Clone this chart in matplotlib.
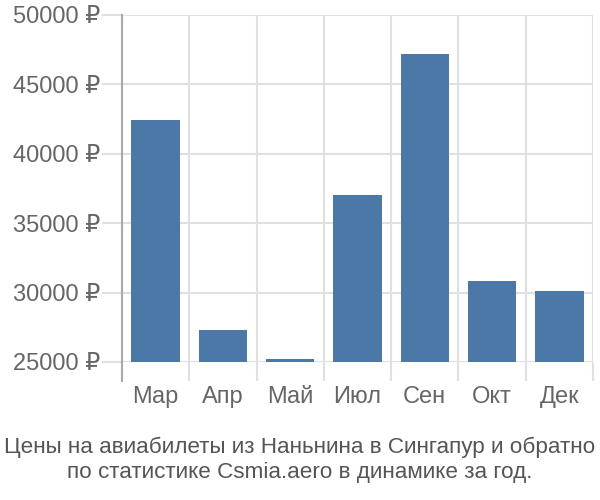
import matplotlib
matplotlib.use("Agg")
import matplotlib.pyplot as plt
import numpy as np

plt.rcParams['font.family'] = ['Liberation Sans', 'DejaVu Sans']

months = ["Мар", "Апр", "Май", "Июл", "Сен", "Окт", "Дек"]
prices = [42400, 27300, 25250, 37000, 47200, 30800, 30100]
yticks = [25000, 30000, 35000, 40000, 45000, 50000]
title = "Цены на авиабилеты из Наньнина в Сингапур и обратно\nпо статистике Csmia.aero в динамике за год."

fig = plt.figure(figsize=(6, 5), dpi=100)
ax = fig.add_axes([122 / 600, 1 - 362 / 500, 471 / 600, 347 / 500])

x = np.arange(len(months))
base = yticks[0]
ax.bar(x, np.array(prices) - base, bottom=base, width=0.72, color="#4c78a8", zorder=3)

ax.set_xlim(-0.5, len(months) - 0.5)
ax.set_ylim(yticks[0], yticks[-1])

ax.set_yticks(yticks)
ax.set_yticklabels([f"{v} ₽" for v in yticks])
ax.set_xticks(x)
ax.set_xticklabels(months)
ax.set_xticks(np.arange(len(months) + 1) - 0.5, minor=True)

ax.grid(True, axis="y", color="#e0e0e0", linewidth=1.5, zorder=0)
ax.grid(True, axis="x", which="minor", color="#e0e0e0", linewidth=1.5, zorder=0)

ax.tick_params(axis="y", length=14.4, width=1.5, color="#e0e0e0", labelsize=17, labelcolor="#666666", pad=1.5)
ax.tick_params(axis="x", which="major", length=0, labelsize=17, labelcolor="#666666", pad=17)
ax.tick_params(axis="x", which="minor", length=14, width=1.5, color="#e0e0e0")

for s in ["top", "right", "bottom"]:
    ax.spines[s].set_visible(False)
ax.spines["left"].set_color("#aaaaaa")
ax.spines["left"].set_linewidth(1.5)
ax.plot([-0.5, -0.5], [0, -0.055], transform=ax.get_xaxis_transform(),
        color="#aaaaaa", linewidth=1.5, clip_on=False, zorder=4)

fig.text(0.5, 1 - 460 / 500, title, ha="center", va="center", fontsize=16.2,
         color="#555555", linespacing=1.25)

fig.savefig("out.png", dpi=100)
